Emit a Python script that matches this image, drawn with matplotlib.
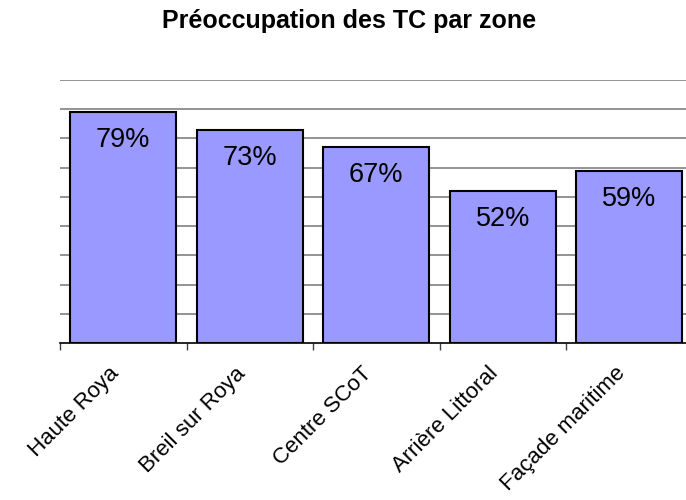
import matplotlib.pyplot as plt
import numpy as np

plt.rcParams['font.family'] = ['Liberation Sans', 'DejaVu Sans']

zones = ['Haute Roya', 'Breil sur Roya', 'Centre SCoT', 'Arrière Littoral', 'Façade maritime']
values = [79, 73, 67, 52, 59]

fig = plt.figure(figsize=(6.86, 5.0), dpi=100)
ax = fig.add_axes([60 / 686, 157 / 500, 632.5 / 686, 263 / 500])

x = np.arange(len(zones))
ax.bar(x, values, width=0.84, color='#9999FF', edgecolor='black', linewidth=1.5, zorder=3)

# Bar values
for i, v in enumerate(values):
    ax.text(i, v - 9.6, str(v) + '%', ha='center', va='center', fontsize=19.5, zorder=4)

ax.set_xlim(-0.5, len(zones) - 0.5)
ax.set_ylim(0, 90)
ax.set_yticks(np.arange(10, 91, 10))
ax.yaxis.grid(True, color='#808080', linewidth=1.2, zorder=0)
ax.tick_params(axis='y', length=0, labelleft=False)

# category labels, rotated
ax.set_xticks([])
for i, name in enumerate(zones):
    ax.annotate(name, xy=(i, 0), xycoords=('data', 'axes fraction'),
                xytext=(-15, -20), textcoords='offset pixels',
                rotation=45, ha='right', va='top', rotation_mode='anchor',
                fontsize=16)
# boundary ticks between categories
ax.set_xticks(np.arange(-0.5, len(zones), 1), minor=True)
ax.tick_params(axis='x', which='minor', length=5, width=1, color='#404040')

for s in ['top', 'right', 'left']:
    ax.spines[s].set_visible(False)
ax.spines['bottom'].set_color('black')
ax.spines['bottom'].set_linewidth(1.2)

fig.text(349 / 686, 1 - 21 / 500, 'Préoccupation des TC par zone', ha='center', va='center',
         fontsize=18, fontweight='bold')

fig.savefig('out.png', dpi=100)
